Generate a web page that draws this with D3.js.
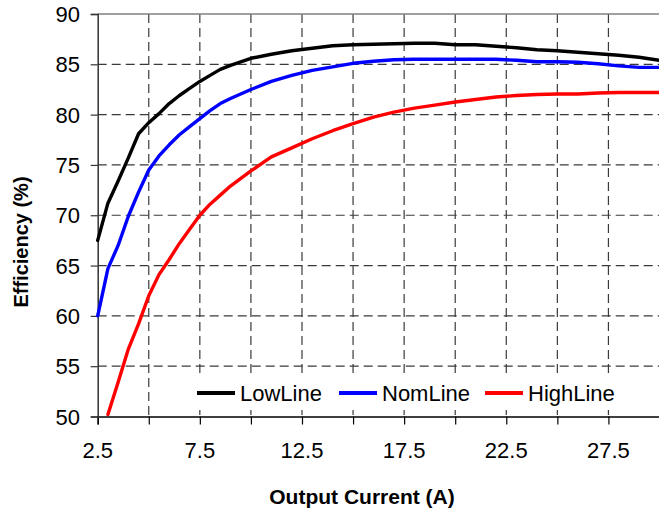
<!DOCTYPE html>
<html>
<head>
<meta charset="utf-8">
<script src="https://cdn.jsdelivr.net/npm/d3@7"></script>
<style>
  html, body { margin: 0; padding: 0; background: #fff; }
  svg { display: block; }
  text { font-family: "Liberation Sans", Arial, sans-serif; fill: #000; }
</style>
</head>
<body>
<div id="chart"></div>
<script>
const current = [2.5, 3, 3.5, 4, 4.5, 5, 5.5, 6, 6.5, 7, 7.5, 8, 8.5, 9, 10, 11, 12, 13, 14, 15, 16, 17, 18, 19, 20, 21, 22, 23, 24, 25, 26, 27, 28, 29, 30];
const lowLine = [67.5, 71.2, 73.4, 75.7, 78.1, 79.2, 80.1, 81.1, 81.9, 82.6, 83.3, 83.9, 84.5, 84.9, 85.6, 86.0, 86.35, 86.6, 86.85, 86.95, 87.0, 87.05, 87.1, 87.1, 86.95, 86.95, 86.8, 86.65, 86.45, 86.35, 86.2, 86.05, 85.9, 85.7, 85.4];
const nomLine = [60.0, 64.7, 67.0, 69.9, 72.3, 74.5, 75.9, 77.0, 78.0, 78.8, 79.6, 80.4, 81.1, 81.6, 82.5, 83.3, 83.9, 84.4, 84.75, 85.1, 85.3, 85.45, 85.5, 85.5, 85.5, 85.5, 85.5, 85.4, 85.25, 85.25, 85.2, 85.05, 84.85, 84.7, 84.7];
const highLine = [null, 50.2, 53.4, 56.7, 59.2, 62.0, 64.1, 65.6, 67.2, 68.6, 70.0, 71.1, 72.0, 72.9, 74.4, 75.8, 76.7, 77.6, 78.4, 79.1, 79.75, 80.25, 80.65, 80.95, 81.25, 81.5, 81.75, 81.9, 82.0, 82.05, 82.05, 82.15, 82.2, 82.2, 82.2];
const seriesNames = ["LowLine", "NomLine", "HighLine"];
const seriesColors = ["#000000", "#0000ff", "#ff0000"];
const xTicks = [2.5, 5, 7.5, 10, 12.5, 15, 17.5, 20, 22.5, 25, 27.5, 30];
const xTickLabels = [2.5, 7.5, 12.5, 17.5, 22.5, 27.5];
const yTicks = [50, 55, 60, 65, 70, 75, 80, 85, 90];
const xTitle = "Output Current (A)";
const yTitle = "Efficiency (%)";

const W = 659, H = 512;
const L = 97.7, R = 659.5, T = 14, B = 416.5;

const svg = d3.select("#chart").append("svg").attr("width", W).attr("height", H);
const x = d3.scaleLinear().domain([2.5, 30]).range([L, R]);
const y = d3.scaleLinear().domain([50, 90]).range([B, T]);

// gridlines
const grid = svg.append("g");
grid.selectAll("line.v").data(xTicks.filter(d => d > 2.5 && d < 30)).enter().append("line")
  .attr("x1", d => x(d)).attr("x2", d => x(d)).attr("y1", T).attr("y2", B)
  .attr("stroke", "#3a3a3a").attr("stroke-width", 1.2).attr("stroke-dasharray", "9,5");
grid.selectAll("line.h").data(yTicks.filter(d => d > 50 && d < 90)).enter().append("line")
  .attr("x1", L).attr("x2", R).attr("y1", d => y(d)).attr("y2", d => y(d))
  .attr("stroke", "#3a3a3a").attr("stroke-width", 1.2).attr("stroke-dasharray", "9,5");
// top border
svg.append("line").attr("x1", L).attr("x2", R).attr("y1", T).attr("y2", T)
  .attr("stroke", "#808080").attr("stroke-width", 1.5);

// axes
const xAxis = d3.axisBottom(x).tickValues(xTicks).tickSize(8).tickFormat("");
const gx = svg.append("g").attr("transform", `translate(0,${B})`).call(xAxis);
gx.select(".domain").attr("stroke", "#000").attr("stroke-width", 1.5);
gx.selectAll(".tick line").attr("stroke", "#000").attr("stroke-width", 1.2);

const yAxis = d3.axisLeft(y).tickValues(yTicks).tickSize(7).tickFormat("");
const gy = svg.append("g").attr("transform", `translate(${L},0)`).call(yAxis);
gy.select(".domain").attr("stroke", "#333").attr("stroke-width", 1.5);
gy.selectAll(".tick line").attr("stroke", "#333").attr("stroke-width", 1.2);

// tick labels
svg.selectAll("text.xl").data(xTickLabels).enter().append("text")
  .attr("x", d => x(d)).attr("y", 458).attr("text-anchor", "middle")
  .attr("font-size", 22).text(d => d);
svg.selectAll("text.yl").data(yTicks).enter().append("text")
  .attr("x", 80).attr("y", d => y(d) + 8).attr("text-anchor", "end")
  .attr("font-size", 22).text(d => d);

// titles
svg.append("text").attr("x", 362).attr("y", 504).attr("text-anchor", "middle")
  .attr("font-size", 21).attr("font-weight", "bold").text(xTitle);
svg.append("text").attr("transform", "translate(28,242) rotate(-90)").attr("text-anchor", "middle")
  .attr("font-size", 20).attr("font-weight", "bold").text(yTitle);

// lines
const allSeries = [lowLine, nomLine, highLine];
const line = d3.line().defined(d => d[1] != null).x(d => x(d[0])).y(d => y(d[1]));
allSeries.forEach((vals, i) => {
  svg.append("path")
    .datum(current.map((c, j) => [c, vals[j]]))
    .attr("d", line).attr("fill", "none")
    .attr("stroke", seriesColors[i]).attr("stroke-width", 3.4)
    .attr("stroke-linejoin", "round").attr("stroke-linecap", "round");
});

// legend
svg.append("rect").attr("x", 188).attr("y", 378).attr("width", 452).attr("height", 32).attr("fill", "#fff");
const legX = [197, 339, 485];
seriesNames.forEach((n, i) => {
  svg.append("line").attr("x1", legX[i]).attr("x2", legX[i] + 38).attr("y1", 393).attr("y2", 393)
    .attr("stroke", seriesColors[i]).attr("stroke-width", 4);
  svg.append("text").attr("x", legX[i] + 43).attr("y", 401).attr("font-size", 22).text(n);
});
</script>
</body>
</html>
